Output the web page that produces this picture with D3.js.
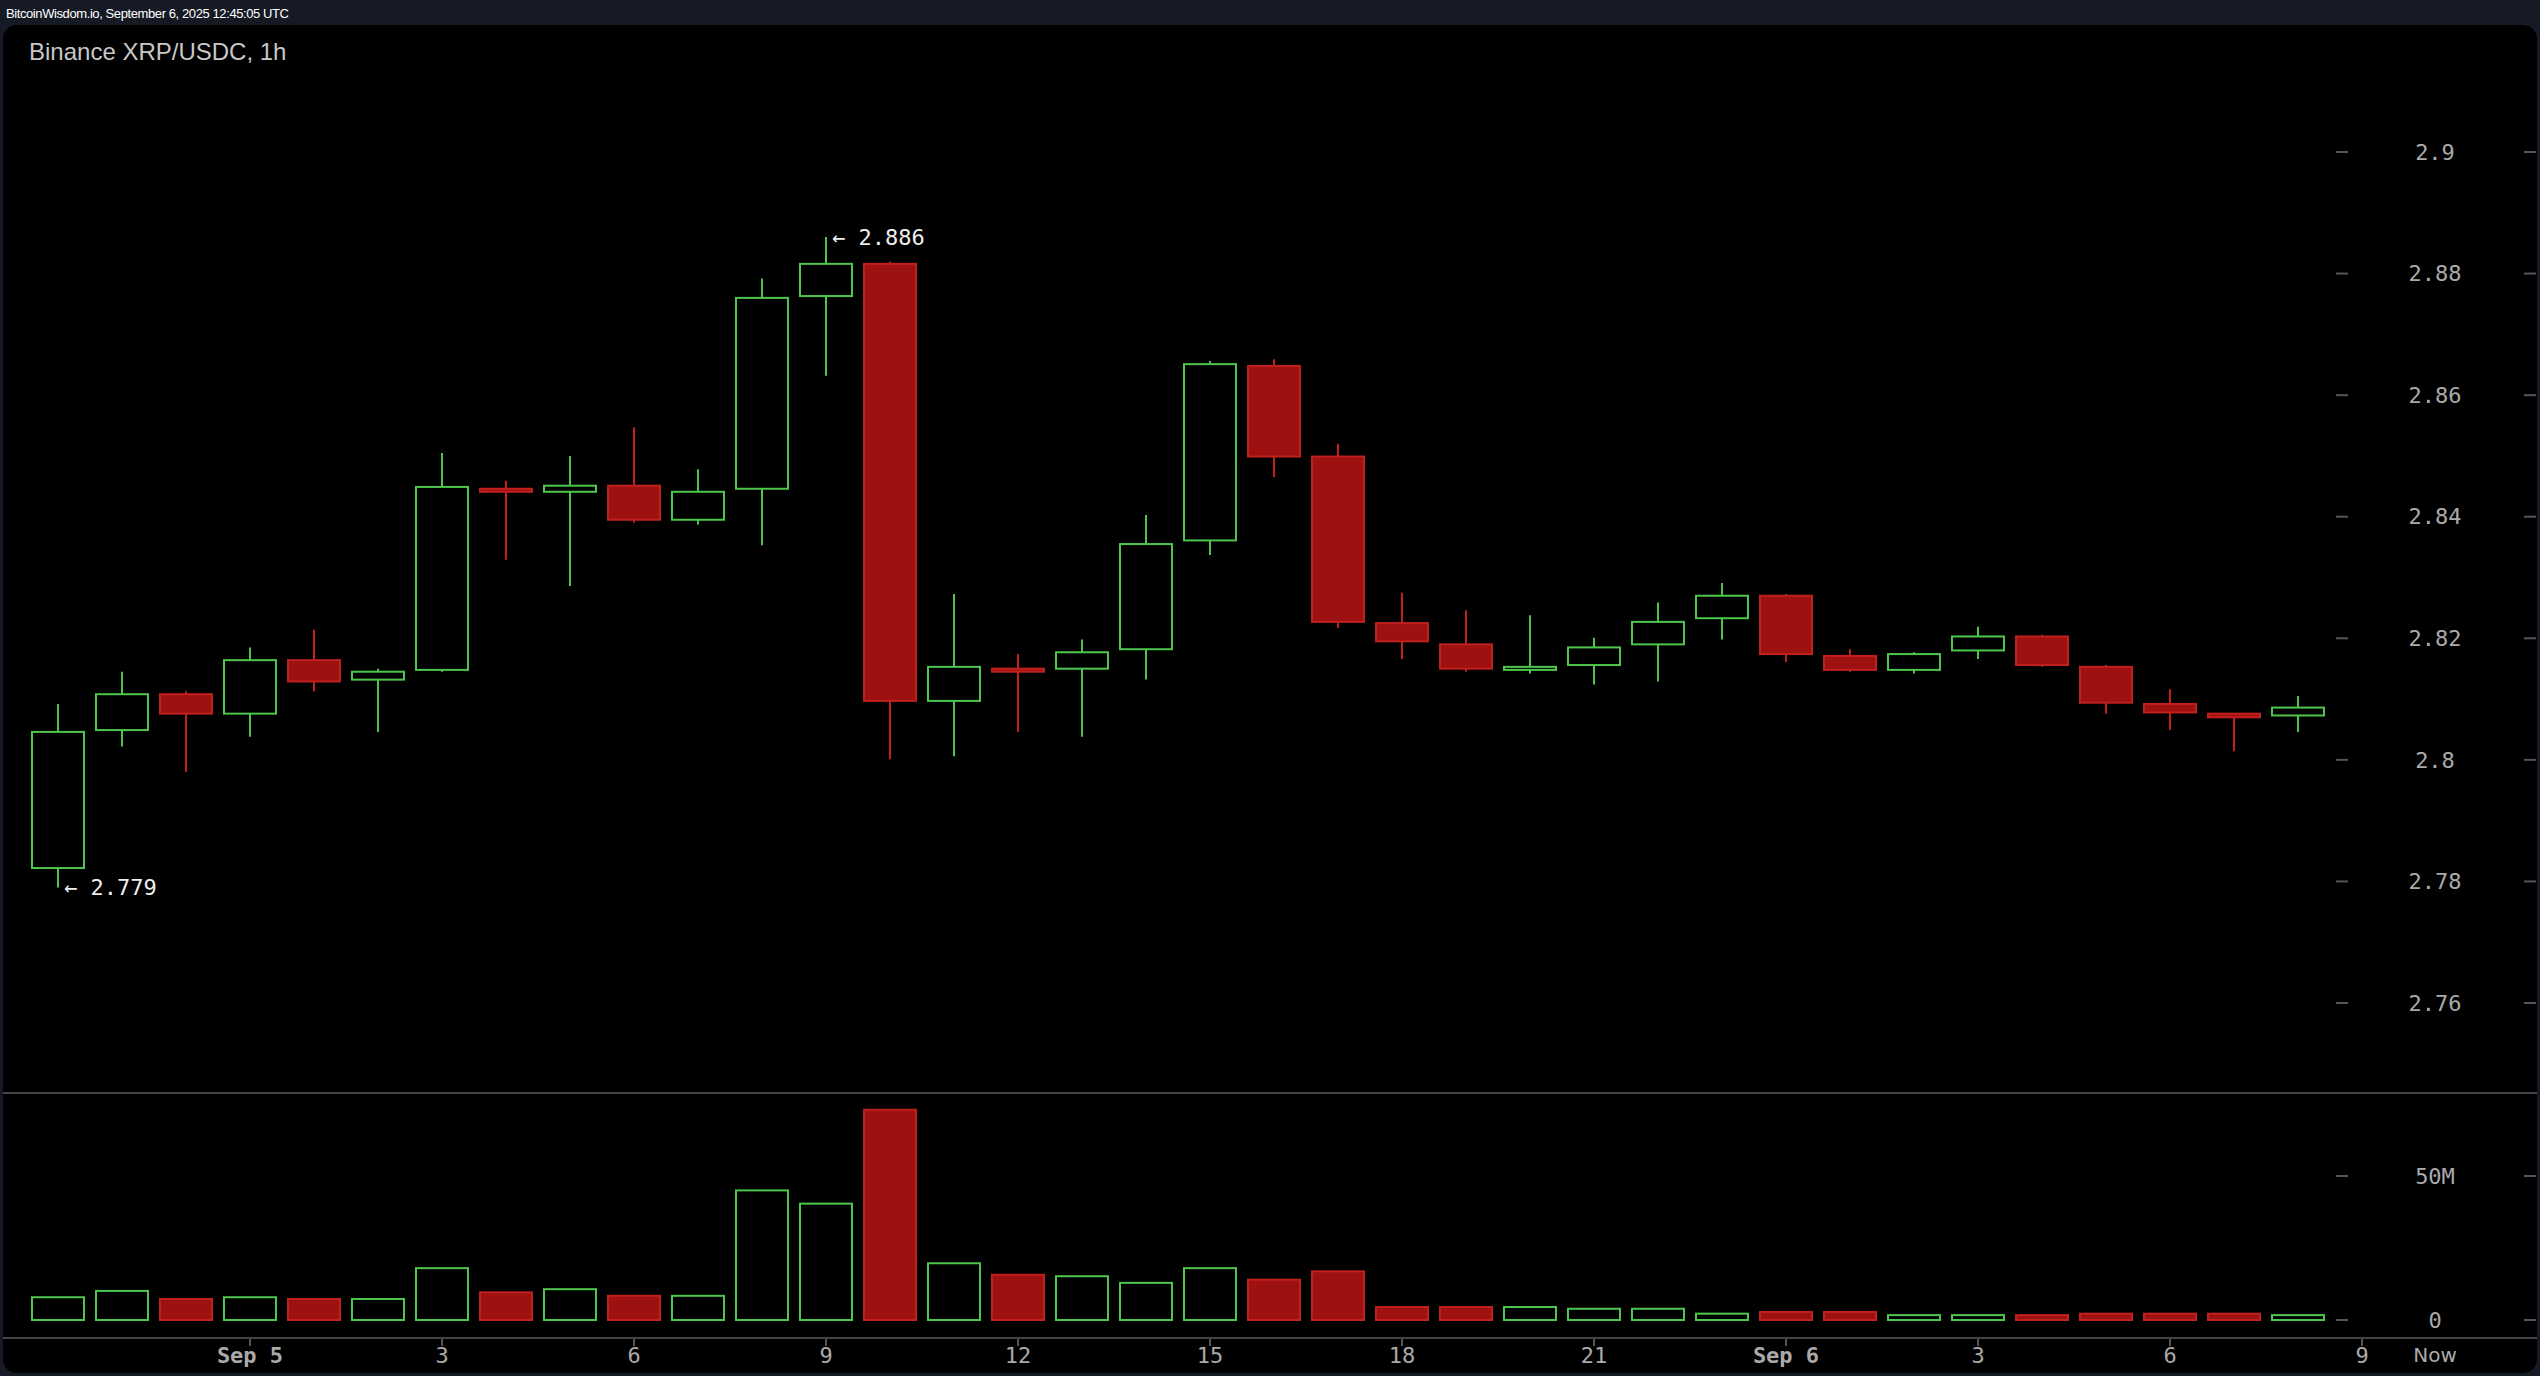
<!DOCTYPE html>
<html><head><meta charset="utf-8">
<script src="https://cdn.jsdelivr.net/npm/d3@7"></script>
<style>body{margin:0;background:#151a24;overflow:hidden}</style>
</head><body>
<script>
var opens  = [2.7822,2.8049,2.8108,2.8076,2.8164,2.8132,2.8148,2.8446,2.8441,2.8451,2.8395,2.8446,2.8763,2.8816,2.8097,2.8150,2.8150,2.8182,2.8361,2.8648,2.8499,2.8225,2.8190,2.8148,2.8156,2.8190,2.8233,2.8270,2.8171,2.8148,2.8180,2.8203,2.8153,2.8092,2.8076,2.8073];
var closes = [2.8046,2.8108,2.8076,2.8164,2.8129,2.8145,2.8449,2.8441,2.8451,2.8395,2.8441,2.8760,2.8816,2.8097,2.8153,2.8145,2.8177,2.8355,2.8651,2.8499,2.8227,2.8195,2.8150,2.8153,2.8185,2.8227,2.8270,2.8174,2.8148,2.8174,2.8203,2.8156,2.8094,2.8078,2.8070,2.8086];
var highs  = [2.8092,2.8145,2.8113,2.8185,2.8214,2.8150,2.8505,2.8459,2.8500,2.8547,2.8478,2.8792,2.8860,2.8820,2.8273,2.8174,2.8198,2.8403,2.8656,2.8659,2.8520,2.8275,2.8246,2.8238,2.8201,2.8259,2.8291,2.8273,2.8182,2.8177,2.8219,2.8206,2.8156,2.8116,2.8076,2.8105];
var lows   = [2.7790,2.8022,2.7980,2.8038,2.8113,2.8046,2.8145,2.8329,2.8286,2.8390,2.8387,2.8353,2.8632,2.8001,2.8006,2.8046,2.8038,2.8132,2.8337,2.8465,2.8217,2.8166,2.8145,2.8142,2.8124,2.8129,2.8198,2.8161,2.8145,2.8142,2.8166,2.8153,2.8076,2.8049,2.8014,2.8046];
var volumes = [7.9,10.1,7.3,7.9,7.3,7.3,18,9.6,10.7,8.4,8.4,45,40.4,73,19.7,15.7,15.2,12.9,18,14,16.9,4.5,4.5,4.5,3.9,3.9,2.2,2.8,2.8,1.7,1.7,1.7,2.2,2.2,2.2,1.7];
var priceTicks = [2.76,2.78,2.8,2.82,2.84,2.86,2.88,2.9];
var volTicks = [0,50];
var timeTicks = [[3,"Sep 5"],[6,"3"],[9,"6"],[12,"9"],[15,"12"],[18,"15"],[21,"18"],[24,"21"],[27,"Sep 6"],[30,"3"],[33,"6"],[36,"9"]];

var W = 2540, H = 1376;
var GREEN = "#4ec64e", RED = "#9e1111", REDS = "#c0201e";
var mono = "'DejaVu Sans Mono', monospace";

var svg = d3.select("body").append("svg").attr("width", W).attr("height", H);
svg.append("rect").attr("width", W).attr("height", H).attr("fill", "#151a24");
svg.append("text").attr("x", 6).attr("y", 18).attr("fill", "#fff")
  .attr("font-family", "Liberation Sans Narrow, Arial, sans-serif").attr("font-size", 13)
  .attr("textLength", 283).text("BitcoinWisdom.io, September 6, 2025 12:45:05 UTC");
svg.append("rect").attr("x", 3).attr("y", 25).attr("width", W - 6).attr("height", H - 28)
  .attr("rx", 14).attr("fill", "#000");
svg.append("text").attr("x", 29).attr("y", 60).attr("fill", "#c8c8c8")
  .attr("font-family", "Liberation Sans, Arial, sans-serif").attr("font-size", 24)
  .text("Binance XRP/USDC, 1h");

var x = d3.scaleLinear().domain([0, 35]).range([58, 2298]);
var y = d3.scaleLinear().domain([2.76, 2.9]).range([1003, 152]);
var yv = d3.scaleLinear().domain([0, 50]).range([1320, 1176]);
var bw = 52;

// separators
svg.append("line").attr("x1", 3).attr("x2", W - 3).attr("y1", 1093).attr("y2", 1093).attr("stroke", "#444").attr("stroke-width", 2);
svg.append("line").attr("x1", 3).attr("x2", W - 3).attr("y1", 1338).attr("y2", 1338).attr("stroke", "#444").attr("stroke-width", 2);

// price axis
var pa = svg.append("g").selectAll("g").data(priceTicks).enter().append("g");
pa.append("line").attr("x1", 2336).attr("x2", 2348).attr("y1", d => y(d)).attr("y2", d => y(d)).attr("stroke", "#555").attr("stroke-width", 2);
pa.append("line").attr("x1", 2524).attr("x2", 2536).attr("y1", d => y(d)).attr("y2", d => y(d)).attr("stroke", "#555").attr("stroke-width", 2);
pa.append("text").attr("x", 2435).attr("y", d => y(d)).attr("dy", "0.35em").attr("text-anchor", "middle")
  .attr("fill", "#aaa").attr("font-family", mono).attr("font-size", 22).text(d => d3.format("")(d));

var va = svg.append("g").selectAll("g").data(volTicks).enter().append("g");
va.append("line").attr("x1", 2336).attr("x2", 2348).attr("y1", d => yv(d)).attr("y2", d => yv(d)).attr("stroke", "#555").attr("stroke-width", 2);
va.append("line").attr("x1", 2524).attr("x2", 2536).attr("y1", d => yv(d)).attr("y2", d => yv(d)).attr("stroke", "#555").attr("stroke-width", 2);
va.append("text").attr("x", 2435).attr("y", d => yv(d)).attr("dy", "0.35em").attr("text-anchor", "middle")
  .attr("fill", "#aaa").attr("font-family", mono).attr("font-size", 22).text(d => d ? d + "M" : "0");

// time axis
var ta = svg.append("g").selectAll("g").data(timeTicks).enter().append("g");
ta.append("line").attr("x1", d => x(d[0])).attr("x2", d => x(d[0])).attr("y1", 1339).attr("y2", 1346).attr("stroke", "#555").attr("stroke-width", 2);
ta.append("text").attr("x", d => x(d[0])).attr("y", 1355).attr("dy", "0.35em").attr("text-anchor", "middle")
  .attr("fill", "#aaa").attr("font-family", mono).attr("font-size", 22)
  .attr("font-weight", d => d[1].startsWith("Sep") ? "bold" : "normal").text(d => d[1]);
svg.append("text").attr("x", 2435).attr("y", 1355).attr("dy", "0.35em").attr("text-anchor", "middle")
  .attr("fill", "#aaa").attr("font-family", "DejaVu Sans, sans-serif").attr("font-size", 20).text("Now");

// candles
var idx = d3.range(opens.length);
var up = i => closes[i] >= opens[i];
var c = svg.append("g").selectAll("g").data(idx).enter().append("g");
c.append("line").attr("x1", i => x(i)).attr("x2", i => x(i))
  .attr("y1", i => y(highs[i])).attr("y2", i => y(lows[i]))
  .attr("stroke", i => up(i) ? GREEN : REDS).attr("stroke-width", 2);
c.append("rect").attr("x", i => x(i) - bw / 2)
  .attr("y", i => y(Math.max(opens[i], closes[i])))
  .attr("width", bw)
  .attr("height", i => Math.max(2, Math.abs(y(opens[i]) - y(closes[i]))))
  .attr("fill", i => up(i) ? "#000" : RED)
  .attr("stroke", i => up(i) ? GREEN : REDS).attr("stroke-width", 2);

// volume
svg.append("g").selectAll("rect").data(idx).enter().append("rect")
  .attr("x", i => x(i) - bw / 2).attr("y", i => yv(volumes[i]))
  .attr("width", bw).attr("height", i => yv(0) - yv(volumes[i]))
  .attr("fill", i => up(i) ? "#000" : RED)
  .attr("stroke", i => up(i) ? GREEN : REDS).attr("stroke-width", 2);

// hi/lo labels
var hiI = d3.maxIndex(highs), loI = d3.minIndex(lows);
svg.append("text").attr("x", x(hiI) + 6).attr("y", y(highs[hiI])).attr("dy", "0.35em")
  .attr("fill", "#eee").attr("font-family", mono).attr("font-size", 22).text("← " + d3.format(".3f")(highs[hiI]));
svg.append("text").attr("x", x(loI) + 6).attr("y", y(lows[loI])).attr("dy", "0.35em")
  .attr("fill", "#eee").attr("font-family", mono).attr("font-size", 22).text("← " + d3.format(".3f")(lows[loI]));
</script>
</body></html>
